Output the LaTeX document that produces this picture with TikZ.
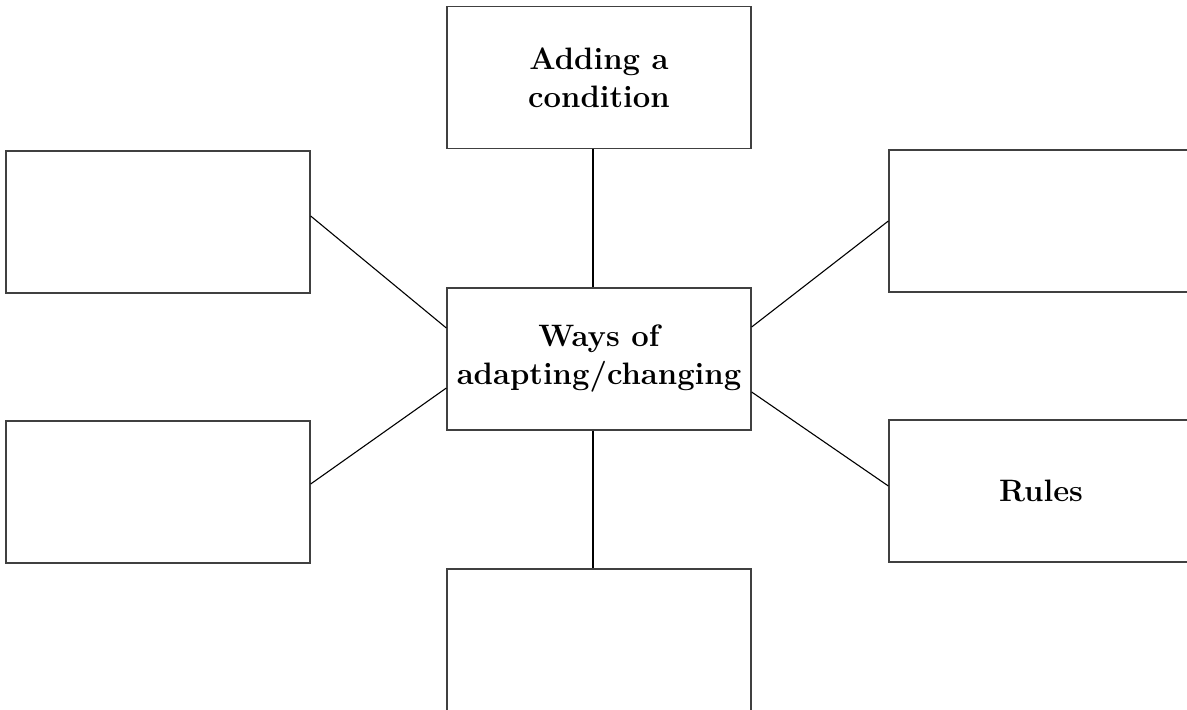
\documentclass[tikz,border=0pt]{standalone}
\begin{document}
\begin{tikzpicture}[x=1pt,y=-1pt,
  box/.style={draw=black!75,line width=1.3pt,minimum width=304pt,minimum height=142pt,
    inner sep=0pt,align=center,font=\fontsize{31}{38}\selectfont\bfseries},
  link/.style={draw=black,line width=1.1pt}]
\useasboundingbox (0,0) rectangle (1187,710);
\clip (0,0) rectangle (1187,710);
\node[box] (top) at (599,77.5) {Adding a\\condition};
\node[box] (ctr) at (599,359) {Ways of\\adapting/changing};
\node[box] (lu) at (158,222) {};
\node[box] (ll) at (158,492) {};
\node[box] (ru) at (1041,221) {};
\node[box] (rl) at (1041,491) {Rules};
\node[box] (bot) at (599,640) {};
\coordinate (t1) at (593,148);
\coordinate (t2) at (593,288);
\coordinate (b1) at (593,430);
\coordinate (b2) at (593,569);
\draw[link] (top.south -| t1) -- (ctr.north -| t2);
\draw[link] (ctr.south -| b1) -- (bot.north -| b2);
\draw[link] (lu.east |- 0,216) -- (ctr.west |- 0,328);
\draw[link] (ll.east |- 0,484) -- (ctr.west |- 0,388);
\draw[link] (ru.west |- 0,221) -- (ctr.east |- 0,327);
\draw[link] (rl.west |- 0,486) -- (ctr.east |- 0,392);
\end{tikzpicture}
\end{document}
